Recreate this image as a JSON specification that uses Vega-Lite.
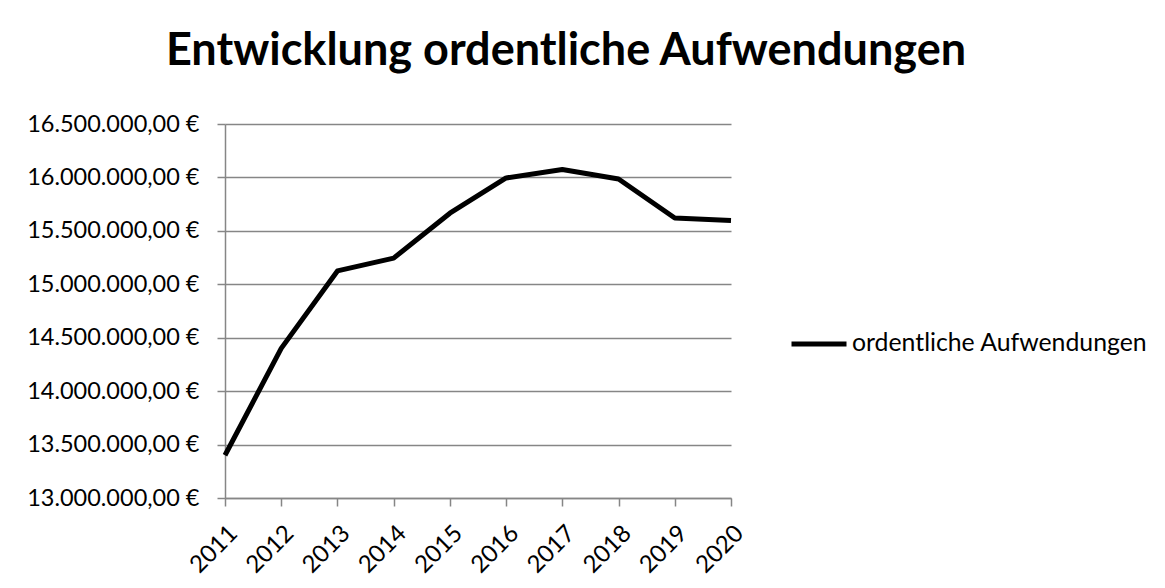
{
  "$schema": "https://vega.github.io/schema/vega-lite/v6.json",
  "autosize": "none",
  "width": 506,
  "height": 374,
  "padding": {"left": 225, "top": 124, "right": 434, "bottom": 90},
  "background": "white",
  "title": {
    "text": "Entwicklung ordentliche Aufwendungen",
    "font": "Lato",
    "fontWeight": "bold",
    "fontSize": 45,
    "color": "black",
    "anchor": "middle",
    "frame": "group",
    "dx": 88,
    "baseline": "alphabetic",
    "offset": 2
  },
  "data": {
    "values": [
      {"Jahr": "2011", "Wert": 13400000, "Reihe": "ordentliche Aufwendungen"},
      {"Jahr": "2012", "Wert": 14400000, "Reihe": "ordentliche Aufwendungen"},
      {"Jahr": "2013", "Wert": 15125000, "Reihe": "ordentliche Aufwendungen"},
      {"Jahr": "2014", "Wert": 15245000, "Reihe": "ordentliche Aufwendungen"},
      {"Jahr": "2015", "Wert": 15665000, "Reihe": "ordentliche Aufwendungen"},
      {"Jahr": "2016", "Wert": 15995000, "Reihe": "ordentliche Aufwendungen"},
      {"Jahr": "2017", "Wert": 16075000, "Reihe": "ordentliche Aufwendungen"},
      {"Jahr": "2018", "Wert": 15985000, "Reihe": "ordentliche Aufwendungen"},
      {"Jahr": "2019", "Wert": 15620000, "Reihe": "ordentliche Aufwendungen"},
      {"Jahr": "2020", "Wert": 15597000, "Reihe": "ordentliche Aufwendungen"}
    ]
  },
  "mark": {"type": "line", "strokeWidth": 5, "strokeJoin": "round", "strokeCap": "butt"},
  "encoding": {
    "x": {
      "field": "Jahr",
      "type": "ordinal",
      "scale": {"type": "point", "padding": 0},
      "axis": {
        "title": null,
        "labelAngle": -45,
        "labelAlign": "right",
        "labelBaseline": "top",
        "grid": false,
        "tickSize": 8,
        "labelPadding": 15,
        "labelFontSize": 24
      }
    },
    "y": {
      "field": "Wert",
      "type": "quantitative",
      "scale": {"domain": [13000000, 16500000], "nice": false, "zero": false},
      "axis": {
        "title": null,
        "values": [13000000, 13500000, 14000000, 14500000, 15000000, 15500000, 16000000, 16500000],
        "format": "$,.2f",
        "tickSize": 8,
        "labelPadding": 18,
        "labelFontSize": 23.5,
        "grid": true
      }
    },
    "color": {
      "field": "Reihe",
      "type": "nominal",
      "scale": {"range": ["black"]},
      "legend": {
        "title": null,
        "orient": "none",
        "legendX": 564,
        "legendY": 190,
        "symbolType": "stroke",
        "symbolSize": 3025,
        "symbolStrokeWidth": 5,
        "symbolStrokeColor": "black",
        "labelOffset": 3,
        "labelFontSize": 24.8,
        "labelLimit": 500,
        "labelFont": "Lato",
        "labelColor": "black",
        "padding": 0
      }
    }
  },
  "config": {
    "locale": {
      "number": {"decimal": ",", "thousands": ".", "grouping": [3], "currency": ["", " €"]}
    },
    "view": {"stroke": null},
    "axis": {
      "labelFont": "Lato",
      "labelColor": "black",
      "domainColor": "#868686",
      "tickColor": "#868686",
      "gridColor": "#868686",
      "gridOpacity": 1,
      "domainWidth": 1.5,
      "tickWidth": 1.5,
      "gridWidth": 1.5
    }
  }
}
